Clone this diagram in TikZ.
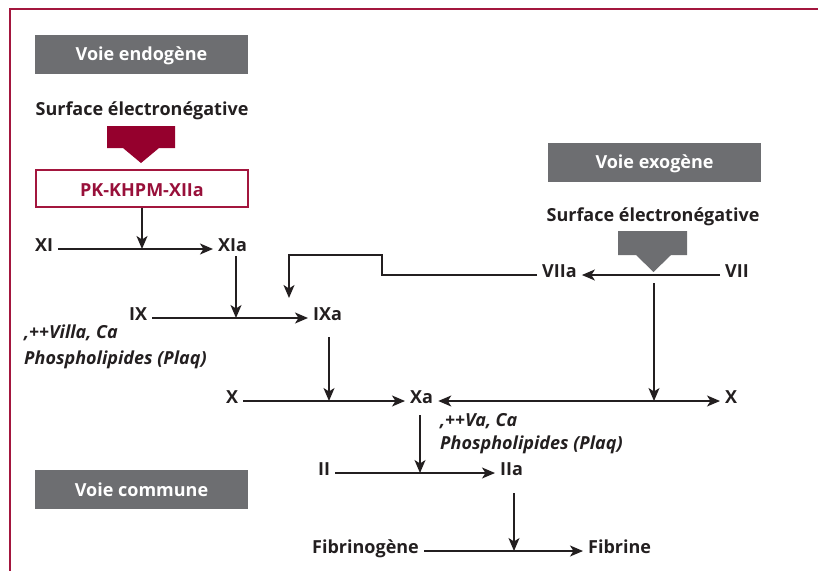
\documentclass[tikz,border=0pt]{standalone}
\usepackage{fontspec}
\setmainfont{Open Sans}
\usetikzlibrary{arrows.meta,calc}
\definecolor{frame}{RGB}{163,22,62}
\definecolor{darkred}{RGB}{149,0,45}
\definecolor{pktext}{RGB}{152,16,58}
\definecolor{boxgray}{RGB}{109,110,113}
\definecolor{ink}{RGB}{35,31,32}
\begin{document}
\begin{tikzpicture}[x=1pt,y=-1pt,
  lbl/.style={inner xsep=5pt,inner ysep=0pt,text height=9pt,text depth=5pt,
    font=\fontsize{18}{21}\selectfont\bfseries,text=ink},
  title/.style={fill=boxgray,text=white,minimum width=213pt,minimum height=39pt,
    inner sep=0pt,text height=13pt,text depth=0pt,font=\fontsize{18}{21}\selectfont\bfseries},
  note/.style={inner sep=0pt,anchor=west,text=ink,
    font=\fontsize{18}{21}\selectfont\bfseries\itshape},
  flow/.style={draw=ink,line width=1.6pt,-{Stealth[length=13pt,width=11pt,inset=3.5pt]}},
  bothflow/.style={draw=ink,line width=1.6pt,{Stealth[length=13pt,width=11pt,inset=3.5pt]}-{Stealth[length=13pt,width=11pt,inset=3.5pt]}}
]
\useasboundingbox (0,0) rectangle (818,570);
% frame
\draw[frame,line width=2pt] (818,9) -- (10,9) -- (10,575);

% section titles
\node[title] (endo) at (141.5,54) {Voie endogène};
\node[title] (exo) at (654.5,162) {Voie exogène};
\node[title] (comm) at (141.5,489.5) {Voie commune};

% endogenous trigger
\node[lbl,inner xsep=0pt] (surf1) at (142,113) {Surface électronégative};
\fill[darkred] (107,126) -- (175,126) -- (175,148) -- (159,148) -- (141,163)
  -- (123,148) -- (107,148) -- cycle;
\node[draw=frame,line width=2pt,minimum width=212pt,minimum height=37pt,inner sep=0pt,
  text height=16pt,text depth=0pt,
  text=pktext,font=\fontsize{18}{21}\selectfont\bfseries] (pk) at (142,188) {PK-KHPM-XIIa};

% exogenous trigger
\node[lbl,inner xsep=0pt] (surf2) at (653,219) {Surface électronégative};
\fill[boxgray] (618,231) -- (687,231) -- (687,255) -- (671,255) -- (653.5,272)
  -- (636,255) -- (618,255) -- cycle;

% factor labels
\node[lbl,anchor=west] (xi) at (30,249) {XI};
\node[lbl,anchor=west] (xia) at (213,249) {XIa};
\node[lbl,anchor=west] (ix) at (124,318) {IX};
\node[lbl,anchor=west] (ixa) at (308,318) {IXa};
\node[lbl,anchor=west] (vIIa) at (537,275) {VIIa};
\node[lbl,anchor=west] (vII) at (720,275) {VII};
\node[lbl,anchor=west] (xl) at (221,401) {X};
\node[lbl,anchor=west] (xa) at (405,401) {Xa};
\node[lbl,anchor=west] (xr) at (720,401) {X};
\node[lbl,anchor=west] (ii) at (313,473) {II};
\node[lbl,anchor=west] (iia) at (495,473) {IIa};
\node[lbl,anchor=west] (fgen) at (307,551) {Fibrinogène};
\node[lbl,anchor=west] (fine) at (583,551) {Fibrine};

% cofactor notes
\node[note] (n1a) at (24,333) {,++Villa, Ca};
\node[note] (n1b) at (24,360) {Phospholipides (Plaq)};
\node[note] (n2a) at (440,421) {,++Va, Ca};
\node[note] (n2b) at (440,445) {Phospholipides (Plaq)};

% junction points
\coordinate (j1) at (142,249);
\coordinate (j2) at (236,318);
\coordinate (j3) at (329,401);
\coordinate (j4) at (420,473);
\coordinate (j5) at (514,551);
\coordinate (j6) at (654,401);
\coordinate (j7) at (654,283);
\coordinate (fb1) at (382,275);
\coordinate (fb2) at (382,255);
\coordinate (fb3) at (289,255);
\coordinate (fb4) at (289,298);

% main conversions
\draw[flow] (xi) -- (xia);
\draw[flow] (ix) -- (ixa);
\draw[flow] (xl) -- (xa);
\draw[flow] (vII) -- (vIIa);
\draw[bothflow] (xa) -- (xr);
\draw[flow] (ii) -- (iia);
\draw[flow] (fgen) -- (fine);

% catalytic arrows
\draw[flow] (pk.south) -- (j1);
\draw[flow] (xia.south -| j2) -- (j2);
\draw[flow,shorten <=12pt] (ixa.south -| j3) -- (j3);
\draw[flow,shorten <=7pt] (xa.south -| j4) -- (j4);
\draw[flow,shorten <=13pt] (iia.south -| j5) -- (j5);
\draw[flow] (j7) -- (j6);
\draw[flow,line width=1.8pt] (vIIa.west) -- (fb1) -- (fb2) -- (fb3) -- (fb4);
\end{tikzpicture}
\end{document}
